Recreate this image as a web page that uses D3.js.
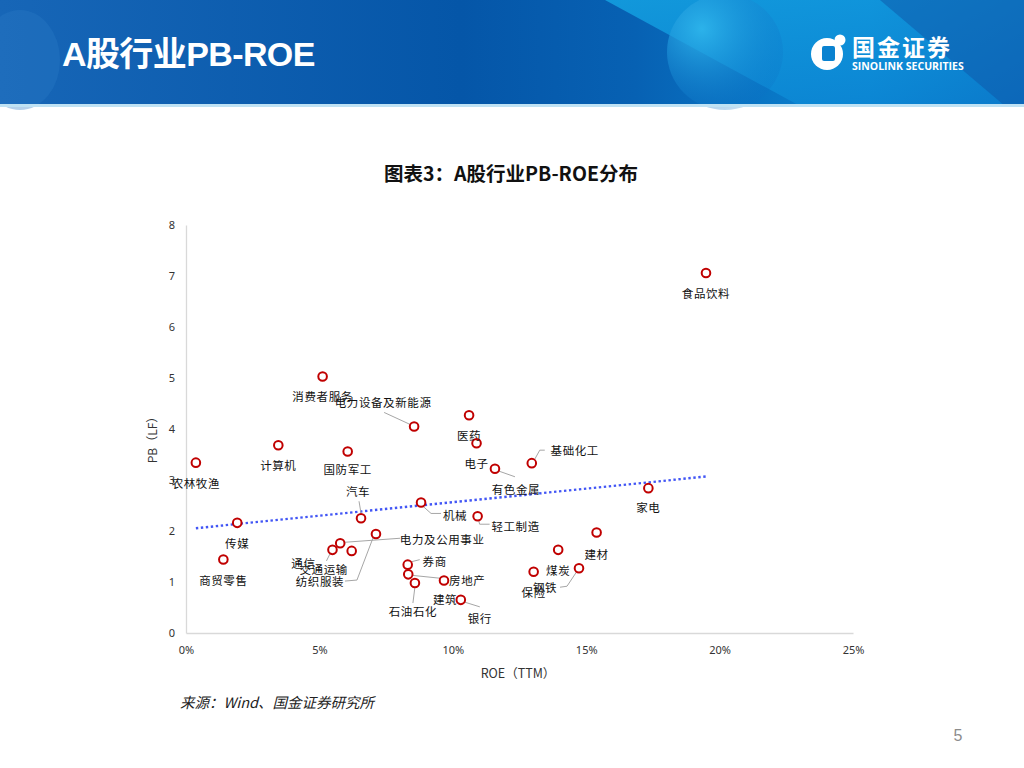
<!DOCTYPE html>
<html>

<head>
    <meta charset="utf-8">
    <style>
        body {
            margin: 0;
            background-color: #ffffff;
            font-family: "Noto Sans CJK SC", "Noto Sans", sans-serif;
        }

        svg {
            display: block;
        }

        .tick text {
            font-size: 11px;
            fill: #333333;
        }

        .pt-label {
            font-size: 11.5px;
            fill: #111111;
        }
    </style>
</head>

<body>
    <div id="slide"></div>

    <script src="https://d3js.org/d3.v7.min.js"></script>

    <script>
        // industries, ROE (TTM, %) and PB (LF)
        var industries = ["农林牧渔", "传媒", "商贸零售", "计算机", "消费者服务", "国防军工", "汽车",
            "通信", "电力及公用事业", "交通运输", "纺织服装", "电力设备及新能源", "机械", "券商",
            "房地产", "石油石化", "建筑", "银行", "医药", "电子", "轻工制造", "有色金属", "基础化工",
            "保险", "煤炭", "钢铁", "建材", "家电", "食品饮料"];
        var roe = [0.37, 1.92, 1.40, 3.46, 5.12, 6.06, 6.56,
            5.49, 5.78, 6.21, 7.12, 8.55, 8.81, 8.31,
            8.33, 8.58, 9.67, 10.30, 10.61, 10.89, 10.93, 11.58, 12.96,
            13.03, 13.95, 14.73, 15.39, 17.33, 19.49];
        var pb = [3.34, 2.16, 1.44, 3.68, 5.03, 3.56, 2.25,
            1.63, 1.76, 1.61, 1.94, 4.05, 2.56, 1.34,
            1.15, 0.98, 1.03, 0.65, 4.27, 3.72, 2.29, 3.22, 3.33,
            1.20, 1.63, 1.27, 1.97, 2.84, 7.06];
        var xTicks = [0, 5, 10, 15, 20, 25];
        var yTicks = [0, 1, 2, 3, 4, 5, 6, 7, 8];

        // label placement (pixels, relative to the marker) and leader lines
        var labelShift = {
            "汽车": [-3, -27], "通信": [-29, 13], "电力及公用事业": [102, -4], "交通运输": [-28, 18],
            "纺织服装": [-56, 47], "电力设备及新能源": [-31, -24], "机械": [34, 13], "券商": [27, -4],
            "房地产": [59, 6], "石油石化": [-2, 28], "建筑": [1, 19], "银行": [19, 18],
            "轻工制造": [38, 10], "有色金属": [21, 20], "基础化工": [43, -13], "钢铁": [-34, 19],
            "国防军工": [0, 18], "建材": [0, 21], "家电": [0, 19]
        };
        var leaders = {
            "汽车": [[-2, -17], [0, -5]],
            "通信": [[-2, 3], [-6, 11]],
            "电力及公用事业": [[5, -1], [60, -5]],
            "纺织服装": [[-3, 4], [-19, 46], [-31, 47]],
            "电力设备及新能源": [[-30, -14], [-4, -2]],
            "机械": [[1, 3], [10, 11], [20, 11]],
            "券商": [[4, -3], [12, -5]],
            "房地产": [[4, 1], [33, 4]],
            "石油石化": [[0, 4], [-2, 20]],
            "银行": [[3, 2], [19, 7]],
            "轻工制造": [[1, 4], [2, 8], [12, 8]],
            "有色金属": [[3, 2], [20, 8]],
            "基础化工": [[3, -4], [8, -13], [13, -13]],
            "钢铁": [[-2, 3], [-12, 18], [-19, 19]]
        };

        var W = 1024, H = 768;
        var svg = d3.select("#slide").append("svg")
            .attr("width", W)
            .attr("height", H);

        // ---- header band ----
        var defs = svg.append("defs");
        var g1 = defs.append("linearGradient").attr("id", "hdr").attr("x1", "0").attr("x2", "1");
        g1.append("stop").attr("offset", "0").attr("stop-color", "#1766b7");
        g1.append("stop").attr("offset", "0.45").attr("stop-color", "#0556a8");
        g1.append("stop").attr("offset", "0.62").attr("stop-color", "#0761b3");
        g1.append("stop").attr("offset", "0.85").attr("stop-color", "#0a86d3");
        g1.append("stop").attr("offset", "1").attr("stop-color", "#0d58aa");
        var g2 = defs.append("linearGradient").attr("id", "swoosh").attr("x1", "0").attr("y1", "0").attr("x2", "1").attr("y2", "1");
        g2.append("stop").attr("offset", "0").attr("stop-color", "#14a2e2");
        g2.append("stop").attr("offset", "1").attr("stop-color", "#0a7fd0");
        var g3 = defs.append("radialGradient").attr("id", "orb").attr("cx", "0.3").attr("cy", "0.3").attr("r", "0.8");
        g3.append("stop").attr("offset", "0").attr("stop-color", "#2fb6ec").attr("stop-opacity", 0.9);
        g3.append("stop").attr("offset", "1").attr("stop-color", "#0a6fc4").attr("stop-opacity", 0.2);

        var hdr = svg.append("g");
        hdr.append("rect").attr("width", W).attr("height", 106).attr("fill", "url(#hdr)");
        hdr.append("path")
            .attr("d", "M605,0 L1024,0 L1024,106 L800,106 Z")
            .attr("fill", "url(#swoosh)").attr("opacity", 0.85);
        hdr.append("path")
            .attr("d", "M880,0 L1024,0 L1024,106 L1005,106 Z")
            .attr("fill", "#0d55a8").attr("opacity", 0.5);
        hdr.append("circle").attr("cx", 725).attr("cy", 52).attr("r", 58).attr("fill", "url(#orb)");
        hdr.append("ellipse").attr("cx", 20).attr("cy", 60).attr("rx", 40).attr("ry", 50)
            .attr("fill", "#2a7bc6").attr("opacity", 0.35);
        hdr.append("rect").attr("y", 104).attr("width", W).attr("height", 3).attr("fill", "#bfe2f4");

        hdr.append("text")
            .attr("x", 62).attr("y", 66)
            .attr("fill", "#ffffff")
            .style("font-family", "'Liberation Sans', 'Noto Sans CJK SC', sans-serif")
            .style("font-weight", "bold")
            .style("font-size", "34px")
            .style("letter-spacing", "-0.6px")
            .text("A股行业PB-ROE");

        // logo
        var logo = hdr.append("g");
        logo.append("circle").attr("cx", 827).attr("cy", 54).attr("r", 16).attr("fill", "#ffffff");
        logo.append("rect").attr("x", 822).attr("y", 46).attr("width", 13).attr("height", 15)
            .attr("rx", 2).attr("fill", "#0a82d0");
        logo.append("circle").attr("cx", 840).attr("cy", 40).attr("r", 5.5).attr("fill", "#ffffff");
        logo.append("text").attr("x", 852).attr("y", 56)
            .attr("fill", "#ffffff").style("font-weight", "bold").style("font-size", "23px")
            .style("letter-spacing", "2px")
            .text("国金证券");
        logo.append("text").attr("x", 852).attr("y", 70)
            .attr("fill", "#ffffff").style("font-family", "'Open Sans', sans-serif")
            .style("font-weight", "bold").style("font-size", "10.5px")
            .text("SINOLINK SECURITIES");

        // ---- chart ----
        svg.append("text")
            .attr("x", 511).attr("y", 181)
            .attr("text-anchor", "middle")
            .style("font-weight", "bold").style("font-size", "19.5px")
            .attr("fill", "#111111")
            .text("图表3：A股行业PB-ROE分布");

        var x = d3.scaleLinear().domain([0, 25]).range([186, 853]);
        var y = d3.scaleLinear().domain([0, 8]).range([633, 225]);

        var xAxis = svg.append("g")
            .attr("transform", "translate(0," + y(0) + ")")
            .call(d3.axisBottom(x).tickValues(xTicks).tickSize(0).tickPadding(13)
                .tickFormat(function (d) { return d + "%"; }));
        var yAxis = svg.append("g")
            .attr("transform", "translate(" + x(0) + ",0)")
            .call(d3.axisLeft(y).tickValues(yTicks).tickSize(0).tickPadding(11));
        [xAxis, yAxis].forEach(function (a) {
            a.select(".domain").attr("stroke", "#d9d9d9").attr("stroke-width", 1.3);
            a.selectAll(".tick text").style("font-family", "'Noto Sans', sans-serif");
        });

        svg.append("text")
            .attr("x", 518).attr("y", 678)
            .attr("text-anchor", "middle")
            .style("font-size", "12.5px").attr("fill", "#333333")
            .text("ROE（TTM）");
        svg.append("text")
            .attr("transform", "translate(157,437) rotate(-90)")
            .attr("text-anchor", "middle")
            .style("font-size", "12px").attr("fill", "#333333")
            .text("PB（LF）");

        // linear trend fitted to the points
        var mx = d3.mean(roe), my = d3.mean(pb);
        var sxy = d3.sum(roe, function (v, i) { return (v - mx) * (pb[i] - my); });
        var sxx = d3.sum(roe, function (v) { return (v - mx) * (v - mx); });
        var slope = sxy / sxx, icpt = my - slope * mx;
        svg.append("path")
            .datum(d3.extent(roe))
            .attr("d", d3.line()
                .x(function (d) { return x(d); })
                .y(function (d) { return y(icpt + slope * d); }))
            .attr("fill", "none")
            .attr("stroke", "#4256f5")
            .attr("stroke-width", 2.4)
            .attr("stroke-dasharray", "2.4 2.6");

        var pts = industries.map(function (name, i) {
            return { name: name, roe: roe[i], pb: pb[i] };
        });

        // leader lines
        svg.append("g").selectAll("path")
            .data(pts.filter(function (d) { return leaders[d.name]; }))
            .enter()
            .append("path")
            .attr("d", function (d) {
                var px = x(d.roe), py = y(d.pb);
                return d3.line()(leaders[d.name].map(function (o) { return [px + o[0], py + o[1]]; }));
            })
            .attr("fill", "none")
            .attr("stroke", "#a6a6a6")
            .attr("stroke-width", 1);

        svg.append("g").selectAll("circle")
            .data(pts)
            .enter()
            .append("circle")
            .attr("cx", function (d) { return x(d.roe); })
            .attr("cy", function (d) { return y(d.pb); })
            .attr("r", 4.3)
            .attr("fill", "#ffffff")
            .attr("stroke", "#c00000")
            .attr("stroke-width", 2);

        svg.append("g").selectAll("text")
            .data(pts)
            .enter()
            .append("text")
            .attr("class", "pt-label")
            .attr("x", function (d) { return x(d.roe) + (labelShift[d.name] || [0, 20])[0]; })
            .attr("y", function (d) { return y(d.pb) + (labelShift[d.name] || [0, 20])[1]; })
            .attr("text-anchor", "middle")
            .attr("dominant-baseline", "central")
            .style("letter-spacing", "0.6px")
            .text(function (d) { return d.name; });

        // source + page number
        svg.append("text")
            .attr("x", 180).attr("y", 708)
            .style("font-size", "14.5px").style("font-style", "italic")
            .attr("fill", "#222222")
            .text("来源：Wind、国金证券研究所");
        svg.append("text")
            .attr("x", 958).attr("y", 741)
            .attr("text-anchor", "middle")
            .style("font-family", "'Liberation Sans', sans-serif")
            .style("font-size", "16px")
            .attr("fill", "#8c8c8c")
            .text("5");
    </script>
</body>

</html>
